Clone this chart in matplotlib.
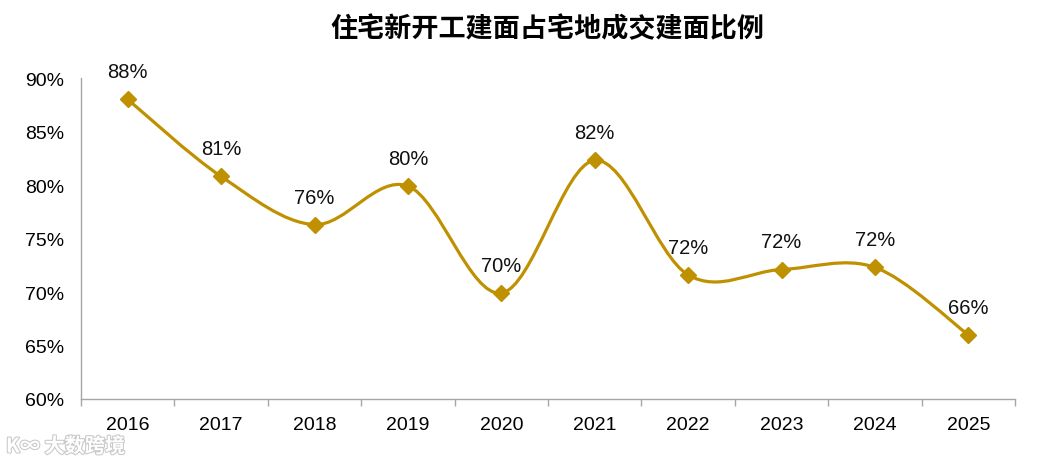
import matplotlib.pyplot as plt
import matplotlib.patheffects as pe
from matplotlib.path import Path
from matplotlib.patches import PathPatch
from matplotlib.ticker import FixedLocator

years = ['2016', '2017', '2018', '2019', '2020', '2021', '2022', '2023', '2024', '2025']
ratio = [88.0, 80.8, 76.3, 79.9, 69.9, 82.3, 71.6, 72.1, 72.3, 66.0]
labels = ['88%', '81%', '76%', '80%', '70%', '82%', '72%', '72%', '72%', '66%']
yticks = [60, 65, 70, 75, 80, 85, 90]

gold = '#BF9000'
plt.rcParams['font.family'] = ['Liberation Sans', 'Noto Sans CJK SC', 'DejaVu Sans']

fig = plt.figure(figsize=(10.41, 4.6), dpi=100)
ax = fig.add_axes([81 / 1041, 60 / 460, 934 / 1041, 321 / 460])

x = list(range(len(years)))

# smooth line like Excel: cubic bezier segments through the points
verts = [(x[0], ratio[0])]
codes = [Path.MOVETO]
n = len(x)
for i in range(n - 1):
    p0 = (x[max(i - 1, 0)], ratio[max(i - 1, 0)])
    p1 = (x[i], ratio[i])
    p2 = (x[i + 1], ratio[i + 1])
    p3 = (x[min(i + 2, n - 1)], ratio[min(i + 2, n - 1)])
    c1 = (p1[0] + (p2[0] - p0[0]) / 6, p1[1] + (p2[1] - p0[1]) / 6)
    c2 = (p2[0] - (p3[0] - p1[0]) / 6, p2[1] - (p3[1] - p1[1]) / 6)
    verts += [c1, c2, p2]
    codes += [Path.CURVE4] * 3
ax.add_patch(PathPatch(Path(verts, codes), fill=False, edgecolor=gold, lw=2.3, zorder=2))
ax.plot(x, ratio, linestyle='none', marker='D', markersize=8.5, color=gold, zorder=3)

for xi, yi, lab in zip(x, ratio, labels):
    ax.annotate(lab, (xi, yi), xytext=(0, 13), textcoords='offset points',
                ha='center', va='bottom', fontsize=14.5, color='#111111')

ax.set_xlim(-0.5, 9.5)
ax.set_ylim(60, 90)
ax.set_yticks(yticks)
ax.set_yticklabels([f'{v}%' for v in yticks], fontsize=14)
ax.set_xticks(x)
ax.set_xticklabels(years, fontsize=14)
ax.tick_params(axis='x', length=0, pad=12)
ax.xaxis.set_minor_locator(FixedLocator([i - 0.5 for i in range(n + 1)]))
ax.tick_params(axis='x', which='minor', length=5, color='#A6A6A6', width=1)
ax.tick_params(axis='y', length=0, pad=12)
for s in ['top', 'right']:
    ax.spines[s].set_visible(False)
for s in ['left', 'bottom']:
    ax.spines[s].set_color('#A6A6A6')
    ax.spines[s].set_linewidth(1)

fig.text(547 / 1041, 1 - 29 / 460, '住宅新开工建面占宅地成交建面比例', ha='center', va='center',
         fontsize=19.5, fontweight='bold', family=['Noto Sans CJK SC', 'DejaVu Sans'])

fig.text(6 / 1041, 1 - 447 / 460, 'K∞ 大数跨境', ha='left', va='center', fontsize=14.5,
         color='white', fontweight='bold', family=['Noto Sans CJK SC', 'DejaVu Sans'],
         path_effects=[pe.withStroke(linewidth=1.5, foreground='#C8C8C8')])

fig.savefig('out.png', dpi=100)
